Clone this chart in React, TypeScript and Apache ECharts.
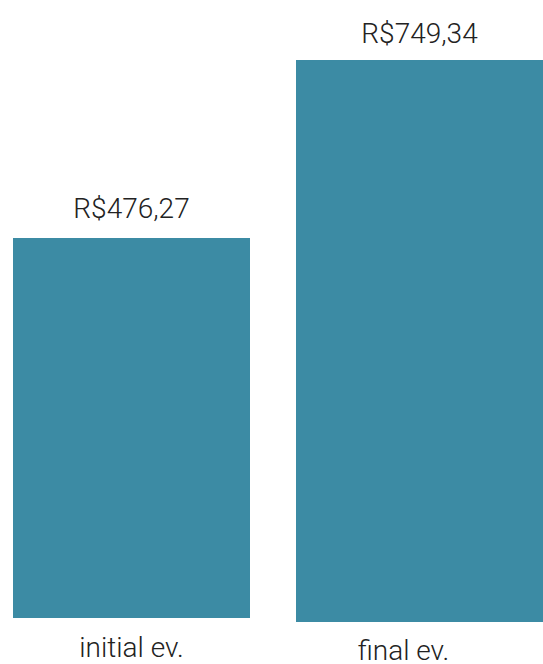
import React, { useEffect, useRef } from "react";
import * as echarts from "echarts";

const categories = ["initial ev.", "final ev."];
const values = [476.27, 749.34];
const valueLabels = ["R$476,27", "R$749,34"];

export default function App() {
  const ref = useRef<HTMLDivElement>(null);
  useEffect(() => {
    const chart = echarts.init(ref.current!, null, { renderer: "svg" });
    const font = "Roboto, 'DejaVu Sans', sans-serif";
    const grids = [
      { left: 13, width: 237, top: 238, bottom: 46 },
      { left: 296, width: 247, top: 60, bottom: 42 },
    ];
    const labelDist = [16, 13];
    const catPad = [
      [0, 0, 0, 0],
      [0, 32, 0, 0],
    ];
    const catMargin = [15, 14];
    chart.setOption({
      animation: false,
      grid: grids,
      xAxis: categories.map((c, i) => ({
        type: "category",
        gridIndex: i,
        data: [c],
        axisLine: { show: false },
        axisTick: { show: false },
        axisLabel: {
          color: "#222",
          fontSize: 28,
          fontWeight: 300,
          fontFamily: font,
          margin: catMargin[i],
          padding: catPad[i],
        },
      })),
      yAxis: values.map((v, i) => ({
        type: "value",
        gridIndex: i,
        min: 0,
        max: v,
        show: false,
        splitLine: { show: false },
      })),
      series: values.map((v, i) => ({
        type: "bar",
        xAxisIndex: i,
        yAxisIndex: i,
        data: [v],
        barWidth: "100%",
        itemStyle: { color: "#3C8BA4" },
        label: {
          show: true,
          position: "top",
          distance: labelDist[i],
          formatter: () => valueLabels[i],
          color: "#222",
          fontSize: 28,
          fontWeight: 300,
          fontFamily: font,
        },
      })),
    });
    return () => chart.dispose();
  }, []);
  return <div ref={ref} style={{ width: 543, height: 664, position: "absolute", left: 0, top: 0 }} />;
}
